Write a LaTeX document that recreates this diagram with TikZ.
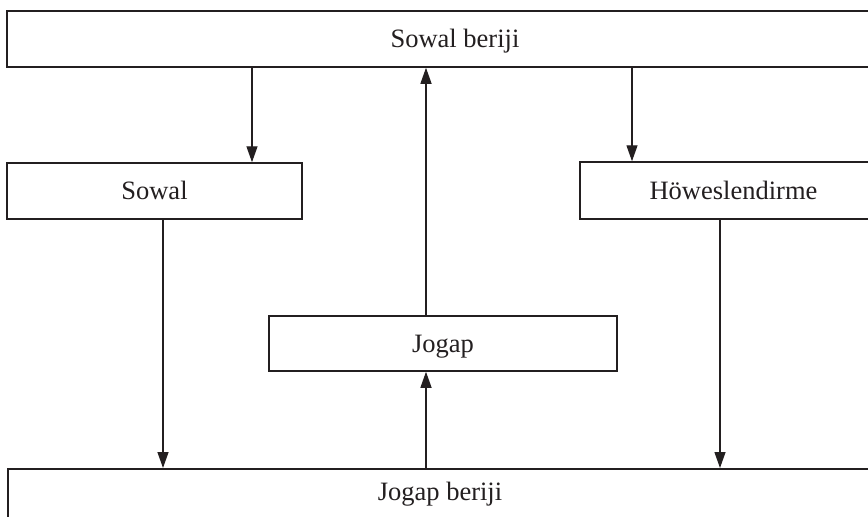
\documentclass[tikz,border=0pt]{standalone}
\usepackage{fontspec}
\setmainfont{Liberation Serif}
\usetikzlibrary{arrows.meta}
\definecolor{ink}{HTML}{231F20}
\begin{document}
\begin{tikzpicture}[x=1pt,y=-1pt,
  box/.style={draw=ink, line width=1.5pt, inner sep=0pt, text height=17.5pt, text depth=0pt,
    font=\fontsize{26.5}{30}\selectfont, text=ink},
  arr/.style={draw=ink, line width=1.3pt, -{Triangle[length=16pt,width=11pt]}}]
\clip (0,0) rectangle (868,517);
\useasboundingbox (0,0) rectangle (868,517);
\fill[white] (0,0) rectangle (868,517);
% boxes
\node[box, minimum width=896pt, minimum height=56pt] (T) at (455,39) {Sowal beriji};
\node[box, minimum width=295pt, minimum height=56pt] (S) at (154.5,191) {Sowal};
\node[box, minimum width=307pt, minimum height=57pt] (H) at (733.5,190.5) {Höweslendirme};
\node[box, minimum width=348pt, minimum height=55pt] (J) at (443,343.5) {Jogap};
\node[box, anchor=north, minimum width=864pt, inner ysep=14.5pt, text depth=40pt] (B) at (440,468) {Jogap beriji};
% arrow columns
\coordinate (c1) at (252,0);
\coordinate (c2) at (426,0);
\coordinate (c3) at (632,0);
\coordinate (c4) at (163,0);
\coordinate (c5) at (720,0);
\draw[arr] (c1 |- T.south) -- (c1 |- S.north);
\draw[arr] (c2 |- J.north) -- (c2 |- T.south);
\draw[arr] (c3 |- T.south) -- (c3 |- H.north);
\draw[arr] (c4 |- S.south) -- (c4 |- B.north);
\draw[arr] (c2 |- B.north) -- (c2 |- J.south);
\draw[arr] (c5 |- H.south) -- (c5 |- B.north);
\end{tikzpicture}
\end{document}
